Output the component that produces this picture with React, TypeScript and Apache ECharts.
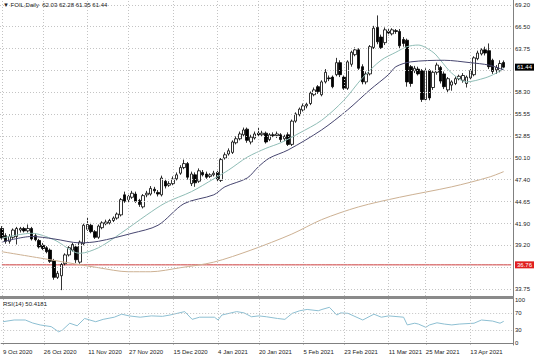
import React, { useEffect, useRef } from 'react';
import * as echarts from 'echarts';

// ---------- categories (trading days) ----------
const HOLIDAYS = ['2020-11-26', '2020-12-25', '2021-01-01', '2021-01-18', '2021-02-15', '2021-04-02'];
const MONTHS = ['Jan', 'Feb', 'Mar', 'Apr', 'May', 'Jun', 'Jul', 'Aug', 'Sep', 'Oct', 'Nov', 'Dec'];
function tradingDays(start: string, end: string): string[] {
  const out: string[] = [];
  const d = new Date(start + 'T00:00:00Z');
  const e = new Date(end + 'T00:00:00Z');
  while (d <= e) {
    const iso = d.toISOString().slice(0, 10);
    const wd = d.getUTCDay();
    if (wd !== 0 && wd !== 6 && !HOLIDAYS.includes(iso)) {
      out.push(`${d.getUTCDate()} ${MONTHS[d.getUTCMonth()]} ${d.getUTCFullYear()}`);
    }
    d.setUTCDate(d.getUTCDate() + 1);
  }
  return out;
}
const dates = tradingDays('2020-10-09', '2021-04-28');

const labelDates = [
  '9 Oct 2020', '26 Oct 2020', '11 Nov 2020', '27 Nov 2020', '15 Dec 2020', '4 Jan 2021',
  '20 Jan 2021', '5 Feb 2021', '23 Feb 2021', '11 Mar 2021', '25 Mar 2021', '13 Apr 2021',
];

const priceTicks = [69.2, 66.5, 63.75, 61.0, 58.3, 55.55, 52.85, 50.1, 47.4, 44.65, 41.9, 39.2, 36.5, 33.75];
const hiddenPriceTicks = [61.0, 36.5];
const supportLevel = 36.76;
const lastPrice = 61.44;
const rsiTicks = [100, 70, 30, 0];
const rsiLevels = [70, 30];

// ---------- candles: [open, high, low, close] ----------
const ohlc: number[][] = [
  [41.3, 41.6, 39.9, 40.1], [40.4, 40.7, 39.4, 39.7], [39.7, 40.6, 39.4, 40.3], [40.2, 41.3, 40.0, 41.1],
  [40.3, 41.5, 39.3, 41.3], [41.1, 41.5, 40.8, 41.3], [41.3, 41.5, 40.8, 41.0], [41.0, 41.8, 40.8, 41.3],
  [41.3, 41.5, 39.8, 40.0], [40.4, 40.7, 39.7, 39.9], [39.8, 40.0, 38.8, 39.0], [39.2, 39.5, 38.6, 38.8],
  [38.9, 39.1, 38.2, 38.4], [38.6, 38.8, 37.0, 37.2], [37.3, 37.5, 34.9, 35.2], [35.2, 36.0, 35.0, 35.7],
  [35.4, 37.0, 33.6, 36.8], [36.9, 38.2, 36.7, 38.0], [38.0, 39.1, 37.8, 38.9], [38.6, 39.5, 38.4, 39.3],
  [39.0, 39.3, 37.0, 37.4], [37.1, 39.8, 36.9, 39.6], [39.4, 41.9, 39.2, 41.7], [41.2, 42.7, 41.0, 41.8],
  [41.7, 42.0, 40.7, 40.9], [40.9, 41.1, 40.0, 40.2], [40.2, 41.8, 40.0, 41.6], [41.4, 42.2, 41.2, 42.0],
  [41.9, 42.4, 41.7, 42.1], [42.0, 42.5, 41.8, 42.3], [42.3, 42.8, 42.1, 42.6], [42.6, 43.3, 42.4, 43.1],
  [43.0, 45.1, 42.8, 44.9], [45.5, 45.9, 44.5, 44.7], [44.9, 45.5, 44.6, 45.3], [45.2, 46.0, 45.0, 45.7],
  [45.6, 45.9, 44.5, 44.7], [44.8, 45.0, 44.0, 44.3], [44.0, 45.6, 43.8, 45.4], [45.5, 46.0, 45.2, 45.7],
  [45.6, 46.6, 45.4, 46.3], [46.2, 46.5, 45.7, 46.0], [45.8, 46.1, 45.3, 45.6], [45.5, 47.9, 45.3, 47.6],
  [47.2, 47.5, 46.3, 46.6], [46.7, 47.2, 46.5, 46.9], [46.9, 47.8, 46.7, 47.5], [47.5, 48.3, 47.3, 48.0],
  [48.2, 49.2, 48.0, 48.9], [48.9, 49.9, 48.7, 49.4], [49.4, 49.6, 47.4, 47.7], [46.9, 48.4, 46.6, 48.1],
  [48.0, 48.3, 46.5, 47.0], [47.2, 48.8, 47.0, 48.5], [48.3, 48.6, 47.8, 48.0], [48.1, 48.4, 47.5, 47.7],
  [47.8, 48.2, 47.6, 48.0], [48.0, 48.5, 47.8, 48.2], [48.3, 48.5, 47.1, 47.4], [47.3, 50.1, 47.1, 49.9],
  [50.1, 50.8, 49.9, 50.5], [50.6, 51.3, 50.4, 51.0], [50.8, 52.3, 50.6, 52.1], [52.0, 52.8, 51.8, 52.5],
  [52.5, 53.4, 52.3, 53.1], [53.0, 53.9, 52.8, 53.6], [53.7, 53.9, 52.0, 52.3], [52.1, 53.0, 51.8, 52.7],
  [52.6, 53.4, 52.4, 53.1], [53.2, 53.9, 52.8, 53.0], [53.0, 53.5, 52.8, 53.2], [53.2, 53.4, 51.9, 52.1],
  [52.4, 53.2, 52.2, 53.0], [53.0, 53.3, 52.7, 52.9], [52.9, 53.4, 52.6, 53.1], [53.0, 53.2, 52.1, 52.4],
  [52.5, 53.0, 52.2, 52.8], [53.0, 53.3, 51.6, 51.8], [51.8, 54.9, 51.6, 54.7], [54.7, 55.8, 54.5, 55.6],
  [55.5, 56.4, 55.3, 56.2], [56.1, 56.9, 55.9, 56.6], [56.6, 57.0, 56.3, 56.8], [56.9, 58.4, 56.7, 58.2],
  [58.0, 58.9, 57.8, 58.6], [59.0, 59.2, 58.1, 58.4], [58.0, 59.8, 57.8, 59.6], [59.6, 61.2, 59.4, 60.8],
  [60.1, 60.4, 59.7, 60.0], [60.2, 60.4, 58.8, 59.0], [60.5, 62.6, 60.3, 62.0], [62.0, 62.3, 60.2, 60.5],
  [60.2, 60.4, 58.6, 58.8], [58.8, 62.3, 58.6, 62.1], [61.8, 63.5, 61.5, 63.3], [63.0, 63.9, 62.8, 63.6],
  [63.6, 63.8, 61.1, 61.3], [61.5, 61.8, 59.3, 59.6], [59.6, 60.9, 59.3, 60.6], [60.6, 64.2, 60.4, 64.0],
  [63.9, 66.6, 63.7, 66.3], [66.4, 67.9, 64.3, 64.6], [65.2, 65.5, 63.7, 63.9], [64.5, 66.4, 64.2, 66.1],
  [65.9, 66.2, 65.4, 65.7], [65.6, 66.3, 65.4, 66.1], [66.0, 66.2, 65.6, 65.9], [65.9, 66.2, 63.7, 64.1],
  [64.9, 65.2, 64.0, 64.4], [64.8, 65.0, 59.0, 59.6], [61.5, 61.7, 59.0, 59.4], [61.0, 61.6, 60.7, 61.3],
  [61.2, 61.5, 60.4, 60.6], [61.0, 61.2, 57.1, 57.4], [57.4, 61.3, 57.2, 61.0], [61.0, 61.2, 57.3, 57.6],
  [58.9, 61.0, 58.6, 60.8], [60.8, 62.0, 60.5, 61.7], [61.4, 61.6, 59.4, 59.7], [60.6, 60.9, 58.7, 59.0],
  [58.6, 60.2, 58.2, 60.0], [59.2, 59.8, 58.5, 59.6], [59.4, 60.3, 59.2, 60.0], [60.0, 60.5, 59.8, 60.3],
  [59.8, 60.7, 59.5, 60.4], [59.4, 60.4, 58.9, 60.2], [60.1, 61.2, 59.9, 61.0], [60.5, 62.8, 60.3, 62.6],
  [62.5, 63.5, 62.3, 63.2], [63.1, 63.8, 62.9, 63.6], [63.6, 64.0, 62.9, 63.2], [63.5, 64.4, 61.2, 61.5],
  [62.3, 62.5, 60.6, 60.9], [61.1, 61.7, 60.6, 61.4], [61.0, 62.3, 60.8, 61.9], [62.03, 62.28, 61.35, 61.44],
];

// ---------- moving averages: [bar index, value] ----------
const maFast: number[][] = [
  [0, 40.1], [8, 40.7], [14, 39.9], [21, 38.2], [26, 38.9], [32, 40.7], [39, 43.0], [44, 44.5],
  [51, 45.9], [57, 47.5], [61, 48.6], [66, 50.2], [71, 51.3], [75, 52.0], [80, 53.2], [86, 54.8],
  [92, 57.3], [97, 60.1], [102, 62.3], [106, 63.3], [109, 64.0], [112, 64.2], [116, 63.3], [118, 62.3],
  [121, 60.7], [125, 59.6], [130, 60.1], [133, 60.7], [135, 61.3],
];
const maMid: number[][] = [
  [0, 39.6], [8, 40.3], [14, 40.0], [21, 39.5], [26, 39.7], [35, 40.7], [42, 41.7], [49, 44.4],
  [57, 45.5], [60, 46.5], [66, 47.6], [69, 49.0], [72, 50.1], [77, 51.1], [86, 53.6], [93, 56.1],
  [99, 58.6], [104, 60.5], [106, 61.5], [110, 62.1], [119, 62.3], [126, 62.0], [131, 61.7], [135, 61.1],
];
const maSlow: number[][] = [
  [0, 38.4], [13, 37.4], [26, 36.4], [34, 35.9], [40, 35.9], [48, 36.4], [57, 37.1], [67, 38.6],
  [78, 40.6], [86, 42.4], [96, 44.0], [107, 45.2], [121, 46.5], [131, 47.7], [135, 48.4],
];
const rsi14: number[][] = [
  [0, 49.5], [3, 53.5], [6, 53.5], [8, 46.5], [10, 42], [13, 38], [15, 26], [16, 30], [18, 46], [20, 40],
  [22, 57], [25, 49.5], [27, 55], [30, 60], [32, 67], [34, 63], [37, 60], [40, 63], [43, 62], [45, 65],
  [49, 73], [51, 55], [53, 60], [57, 60], [58, 53.5], [59, 65], [61, 69], [63, 73], [65, 70], [67, 61],
  [69, 63], [71, 61], [74, 57], [76, 55], [78, 69], [80, 75], [82, 78], [85, 75], [86, 78], [88, 83],
  [90, 65], [91, 70], [93, 69], [97, 53.5], [100, 67], [102, 60], [104, 63], [108, 60], [109, 42],
  [111, 46], [112, 44], [114, 36.5], [115, 42], [117, 47], [119, 44], [121, 42], [123, 44], [127, 46],
  [129, 53.5], [132, 51], [134, 46], [135, 50.4181],
];

const FONT = '"Liberation Sans", Arial, sans-serif';
const GRID_LINE = { color: '#c4c4c4', type: [1, 2] as number[], width: 1 };
const LEVEL_RED = '#cc3a3a';

function toCat(points: number[][]) {
  return points.map(([i, v]) => [dates[i], v]);
}

function buildOption() {
  const verticalLines = labelDates.map((d) => ({ xAxis: d, label: { show: false } }));
  const priceLines = priceTicks.map((v) => ({
    yAxis: v,
    label: { show: !hiddenPriceTicks.includes(v), formatter: v.toFixed(2) },
  }));
  const rsiLines = rsiTicks.map((v) => ({
    yAxis: v,
    lineStyle: rsiLevels.includes(v) ? GRID_LINE : { color: 'rgba(0,0,0,0)' },
    label: { show: true, formatter: String(v) },
  }));

  const labelBase = { position: 'end', distance: 2, fontSize: 6, color: '#222', fontFamily: FONT };
  const markBase = {
    silent: true,
    symbol: 'none',
    animation: false,
    lineStyle: GRID_LINE,
    label: labelBase,
  };

  return {
    animation: false,
    backgroundColor: '#ffffff',
    textStyle: { fontFamily: FONT },
    grid: [
      { left: 0, top: 0, width: 513, height: 296 },
      { left: 0, top: 299, width: 513, height: 46 },
    ],
    xAxis: [
      {
        type: 'category', gridIndex: 0, data: dates, boundaryGap: true,
        axisLine: { show: false }, axisTick: { show: false }, axisLabel: { show: false }, splitLine: { show: false },
      },
      {
        type: 'category', gridIndex: 1, data: dates, boundaryGap: true,
        axisLine: { show: true, lineStyle: { color: '#808080' } },
        axisTick: { show: false },
        axisLabel: {
          show: true,
          interval: (_i: number, v: string) => labelDates.includes(v),
          align: 'left', fontSize: 6, color: '#222', margin: 4,
        },
        splitLine: { show: false },
      },
    ],
    yAxis: [
      {
        type: 'value', gridIndex: 0, position: 'right', min: 32.871, max: 69.824,
        axisLine: { show: true, lineStyle: { color: '#808080' } },
        axisTick: { show: false }, axisLabel: { show: false }, splitLine: { show: false },
      },
      {
        type: 'value', gridIndex: 1, position: 'right', min: -4.65, max: 102.3,
        axisLine: { show: true, lineStyle: { color: '#808080' } },
        axisTick: { show: false }, axisLabel: { show: false }, splitLine: { show: false },
      },
    ],
    graphic: [
      { type: 'rect', z: 10, shape: { x: 0, y: 296, width: 514, height: 3 }, style: { fill: '#8a8a8a' } },
      {
        type: 'text', z: 10, left: 3, top: 2,
        style: { text: '\u25BC FOIL,Daily  62.03 62.28 61.35 61.44', fontSize: 6, fill: '#222', fontFamily: FONT },
      },
      {
        type: 'text', z: 10, left: 3, top: 301,
        style: { text: 'RSI(14) 50.4181', fontSize: 6, fill: '#222', fontFamily: FONT },
      },
    ],
    series: [
      {
        name: 'grid', type: 'line', xAxisIndex: 0, yAxisIndex: 0, data: [], z: 1,
        markLine: { ...markBase, data: [...verticalLines, ...priceLines] },
      },
      {
        name: 'support', type: 'line', xAxisIndex: 0, yAxisIndex: 0, z: 2,
        data: dates.map((d) => [d, supportLevel]),
        showSymbol: false, silent: true,
        lineStyle: { color: LEVEL_RED, width: 1 },
        itemStyle: { color: LEVEL_RED },
        markLine: {
          silent: true, symbol: 'none', animation: false,
          lineStyle: { color: 'rgba(0,0,0,0)', width: 1 },
          label: { ...labelBase, color: '#ffffff', backgroundColor: '#e01e1e', padding: [1, 2, 0, 2] },
          data: [{ yAxis: supportLevel, label: { formatter: supportLevel.toFixed(2) } }],
        },
      },
      {
        name: 'FOIL', type: 'candlestick', xAxisIndex: 0, yAxisIndex: 0, z: 3, barWidth: 3,
        data: ohlc.map(([o, h, l, c]) => [o, c, l, h]),
        itemStyle: { color: '#ffffff', color0: '#000000', borderColor: '#000000', borderColor0: '#000000', borderWidth: 0.8 },
      },
      {
        name: 'MA fast', type: 'line', xAxisIndex: 0, yAxisIndex: 0, z: 4, data: toCat(maFast),
        showSymbol: false, smooth: 0.3, lineStyle: { color: '#8fbdb6', width: 1 },
      },
      {
        name: 'MA mid', type: 'line', xAxisIndex: 0, yAxisIndex: 0, z: 4, data: toCat(maMid),
        showSymbol: false, smooth: 0.3, lineStyle: { color: '#474670', width: 1 },
      },
      {
        name: 'MA slow', type: 'line', xAxisIndex: 0, yAxisIndex: 0, z: 4, data: toCat(maSlow),
        showSymbol: false, smooth: 0.3, lineStyle: { color: '#cdb193', width: 1 },
      },
      {
        name: 'last', type: 'line', xAxisIndex: 0, yAxisIndex: 0, data: [], z: 5,
        markLine: {
          silent: true, symbol: 'none', animation: false,
          lineStyle: { color: 'rgba(0,0,0,0)', width: 1 },
          label: { ...labelBase, color: '#ffffff', backgroundColor: '#000000', padding: [1, 2, 0, 2] },
          data: [{ yAxis: lastPrice, label: { formatter: lastPrice.toFixed(2) } }],
        },
      },
      {
        name: 'RSI(14)', type: 'line', xAxisIndex: 1, yAxisIndex: 1, z: 4, data: toCat(rsi14),
        showSymbol: false, lineStyle: { color: '#8dbfd2', width: 1 },
        markLine: { ...markBase, data: [...verticalLines, ...rsiLines] },
      },
    ],
  };
}

export default function App() {
  const ref = useRef<HTMLDivElement>(null);
  useEffect(() => {
    if (!ref.current) return;
    const chart = echarts.init(ref.current, null, { renderer: 'svg' });
    chart.setOption(buildOption() as any);
    return () => chart.dispose();
  }, []);
  return (
    <div
      ref={ref}
      style={{ position: 'fixed', left: 0, top: 0, width: 536, height: 357, background: '#ffffff' }}
    />
  );
}
